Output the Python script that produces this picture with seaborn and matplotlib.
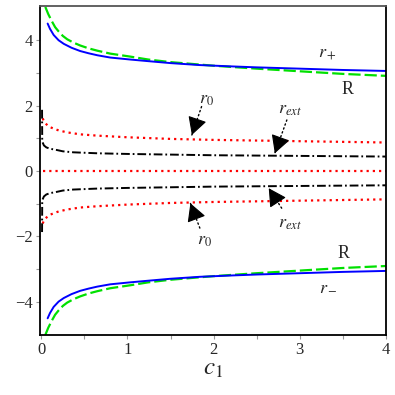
import numpy as np
import pandas as pd
import matplotlib
matplotlib.use("Agg")
import matplotlib.pyplot as plt
import seaborn as sns

# ---- data ----
rp_x = [0.073, 0.1, 0.143, 0.2, 0.26, 0.35, 0.45, 0.55, 0.65, 0.8, 1.03, 1.24, 1.5, 1.84, 2.2, 2.5, 3.0, 3.5, 4.0]
rp_y = [4.51, 4.35, 4.16, 4.0, 3.89, 3.77, 3.67, 3.60, 3.54, 3.47, 3.41, 3.36, 3.30, 3.24, 3.20, 3.17, 3.13, 3.09, 3.06]

g_x = [0.046, 0.08, 0.124, 0.16, 0.2, 0.25, 0.3, 0.37, 0.45, 0.55, 0.65, 0.8, 1.03, 1.24, 1.5, 2.0, 2.5, 3.0, 3.5, 4.0]
g_y = [5.02, 4.80, 4.57, 4.40, 4.27, 4.13, 4.03, 3.93, 3.84, 3.75, 3.68, 3.59, 3.50, 3.41, 3.33, 3.22, 3.13, 3.05, 2.97, 2.91]

r0_x = [0.015, 0.03, 0.05, 0.073, 0.1, 0.14, 0.2, 0.3, 0.45, 0.65, 1.0, 1.5, 2.0, 3.0, 4.0]
r0_y = [1.61, 1.52, 1.45, 1.39, 1.34, 1.30, 1.24, 1.18, 1.12, 1.08, 1.03, 0.98, 0.95, 0.91, 0.87]

rext_x = [0.008, 0.01, 0.03, 0.058, 0.1, 0.18, 0.25, 0.37, 0.65, 1.0, 1.5, 2.0, 3.0, 4.0]
rext_y = [1.87, 0.90, 0.78, 0.72, 0.68, 0.64, 0.60, 0.57, 0.54, 0.52, 0.50, 0.48, 0.46, 0.44]

zero_x = [0.02, 4.0]
zero_y = [0.0, 0.0]

xticks = [0, 1, 2, 3, 4]
yticks = [-4, -2, 0, 2, 4]

# ---- figure ----
sns.set_style("ticks")
plt.rcParams["font.family"] = ["Liberation Serif", "DejaVu Serif"]
plt.rcParams["mathtext.fontset"] = "stix"

fig = plt.figure(figsize=(3.95, 3.95), dpi=100)
ax = fig.add_axes([0.101, 0.152, 0.876, 0.833])

def draw(x, y, sign, **kw):
    df = pd.DataFrame({"x": x, "y": [sign * v for v in y]})
    sns.lineplot(data=df, x="x", y="y", ax=ax, sort=False, estimator=None, **kw)

for s in (1, -1):
    draw(g_x, g_y, s, color="#00e000", lw=1.6, linestyle=(0, (5.5, 1.8)))
    draw(rp_x, rp_y, s, color="#0000ff", lw=1.4, linestyle="-")
    draw(r0_x, r0_y, s, color="#ff0000", lw=1.6, linestyle=(0, (1, 1.8)))
    draw(rext_x, rext_y, s, color="black", lw=1.4, linestyle=(0, (4.5, 1.5, 0.9, 1.5)))
draw(zero_x, zero_y, 1, color="#ff0000", lw=1.6, linestyle=(0, (1, 1.8)))

# labels
tfs = 13
ax.text(1.92, 2.2, r"$r_0$", fontsize=tfs, ha="center", va="center")
ax.text(2.89, 1.87, r"$r_{ext}$", fontsize=tfs, ha="center", va="center")
ax.text(1.89, -2.14, r"$r_0$", fontsize=tfs, ha="center", va="center")
ax.text(2.89, -1.62, r"$r_{ext}$", fontsize=tfs, ha="center", va="center")
ax.text(3.32, 3.58, r"$r_+$", fontsize=tfs, ha="center", va="center")
ax.text(3.33, -3.54, r"$r_-$", fontsize=tfs, ha="center", va="center")
ax.text(3.55, 2.48, "R", fontsize=13, ha="center", va="center")
ax.text(3.51, -2.52, "R", fontsize=13, ha="center", va="center")

arrows = [((1.86, 1.97), (1.747, 1.10)),
          ((2.85, 1.56), (2.71, 0.54)),
          ((1.84, -1.75), (1.73, -0.99)),
          ((2.79, -1.14), (2.64, -0.53))]
for start, tip in arrows:
    # dotted shaft
    ax.annotate("", xy=tip, xytext=start,
                arrowprops=dict(arrowstyle="-", linestyle=(0, (1, 2)), color="black",
                                lw=1.0, shrinkA=0, shrinkB=0))
    # solid head
    f = 0.3
    mid = (tip[0] + f * (start[0] - tip[0]), tip[1] + f * (start[1] - tip[1]))
    ax.annotate("", xy=tip, xytext=mid,
                arrowprops=dict(arrowstyle="-|>,head_length=0.55,head_width=0.3",
                                color="black", lw=0.8, mutation_scale=20,
                                shrinkA=0, shrinkB=0))

ax.set_xlim(-0.017, 4.0)
ax.set_ylim(-5.02, 5.05)
ax.set_xticks(xticks)
ax.set_yticks(yticks)
ax.set_xticks([0.5, 1.5, 2.5, 3.5], minor=True)
ax.set_yticks([-3, -1, 1, 3], minor=True)
ax.tick_params(which="both", direction="out", length=3, width=0.8, color="#999999",
               labelsize=12, pad=2)
ax.set_xlabel(r"$c_1$", fontsize=18, labelpad=0)
ax.set_ylabel("")
for name, sp in ax.spines.items():
    sp.set_visible(True)
    sp.set_linewidth(1.3)
    sp.set_color("black")
ax.spines["top"].set_color("#555555")

fig.savefig("out.png", dpi=100)
